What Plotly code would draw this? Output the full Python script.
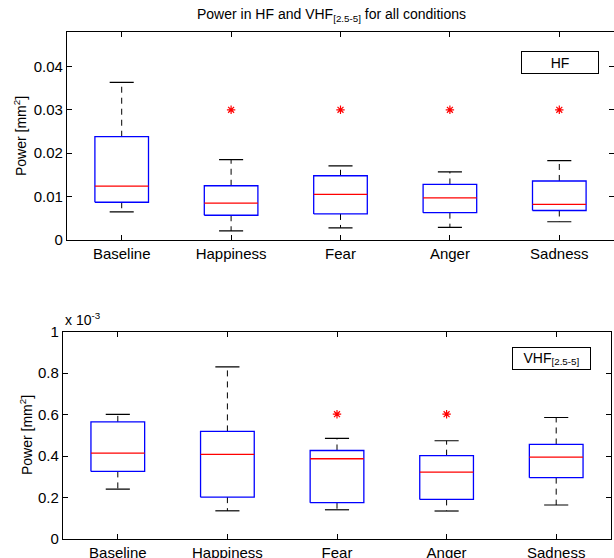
import plotly.graph_objects as go

categories = ["Baseline", "Happiness", "Fear", "Anger", "Sadness"]
positions = [1, 2, 3, 4, 5]

# HF power (mm^2)
hf_low = [0.0065, 0.0021, 0.0028, 0.0029, 0.0042]
hf_q1 = [0.0087, 0.0057, 0.0060, 0.0063, 0.0068]
hf_med = [0.0124, 0.0085, 0.0105, 0.0097, 0.0082]
hf_q3 = [0.0238, 0.0125, 0.0148, 0.0128, 0.0136]
hf_high = [0.0363, 0.0185, 0.0171, 0.0157, 0.0183]
hf_out = [None, 0.030, 0.030, 0.030, 0.030]

# VHF[2.5-5] power (x 1e-3 mm^2)
vhf_low = [0.241, 0.136, 0.141, 0.135, 0.164]
vhf_q1 = [0.326, 0.202, 0.175, 0.191, 0.296]
vhf_med = [0.414, 0.408, 0.387, 0.323, 0.395]
vhf_q3 = [0.565, 0.519, 0.427, 0.402, 0.456]
vhf_high = [0.601, 0.830, 0.485, 0.474, 0.586]
vhf_out = [None, None, 0.602, 0.602, None]

hf_yticks = [0, 0.01, 0.02, 0.03, 0.04]
hf_yticktext = ["0", "0.01", "0.02", "0.03", "0.04"]
vhf_yticks = [0, 0.2, 0.4, 0.6, 0.8, 1.0]
vhf_yticktext = ["0", "0.2", "0.4", "0.6", "0.8", "1"]

HW = 0.245   # box half width (axis units)
CW = 0.11    # cap half width
FONT = "Liberation Sans, Arial, sans-serif"

fig = go.Figure()


def add_boxes(low, q1, med, q3, high, out, xa, ya):
    wx, wy, bx, by, mx, my, cx, cy, ox, oy = [], [], [], [], [], [], [], [], [], []
    for p, lo, a, m, b, hi, o in zip(positions, low, q1, med, q3, high, out):
        wx += [p, p, None, p, p, None]
        wy += [b, hi, None, a, lo, None]
        bx += [p - HW, p + HW, p + HW, p - HW, p - HW, None]
        by += [a, a, b, b, a, None]
        mx += [p - HW, p + HW, None]
        my += [m, m, None]
        cx += [p - CW, p + CW, None, p - CW, p + CW, None]
        cy += [hi, hi, None, lo, lo, None]
        if o is not None:
            ox.append(p)
            oy.append(o)
    common = dict(xaxis=xa, yaxis=ya, showlegend=False, hoverinfo="skip")
    fig.add_trace(go.Scatter(x=wx, y=wy, mode="lines",
                             line=dict(color="black", width=1, dash="6px,5px"), **common))
    fig.add_trace(go.Scatter(x=cx, y=cy, mode="lines",
                             line=dict(color="black", width=1.2), **common))
    fig.add_trace(go.Scatter(x=bx, y=by, mode="lines",
                             line=dict(color="#0000ff", width=1.3), **common))
    fig.add_trace(go.Scatter(x=mx, y=my, mode="lines",
                             line=dict(color="#ff0000", width=1.3), **common))
    fig.add_trace(go.Scatter(x=ox, y=oy, mode="markers",
                             marker=dict(symbol="asterisk-open", color="red", size=7,
                                         line=dict(color="red", width=1.2)), **common))


add_boxes(hf_low, hf_q1, hf_med, hf_q3, hf_high, hf_out, "x", "y")
add_boxes(vhf_low, vhf_q1, vhf_med, vhf_q3, vhf_high, vhf_out, "x2", "y2")

W, H = 614, 558
axis_common = dict(showline=True, linecolor="black", linewidth=1.3, mirror="ticks",
                   ticks="inside", ticklen=5, tickcolor="black", tickwidth=1,
                   showgrid=False, zeroline=False, automargin=False,
                   tickfont=dict(family=FONT, size=15, color="black"))

fig.update_layout(
    width=W, height=H,
    margin=dict(l=0, r=0, t=0, b=0, pad=0, autoexpand=False),
    paper_bgcolor="white", plot_bgcolor="white",
    font=dict(family=FONT, color="black"),
    xaxis=dict(domain=[67 / W, 1.0], range=[0.5, 5.5], tickvals=positions,
               ticktext=categories, anchor="y", **axis_common),
    yaxis=dict(domain=[1 - 240 / H, 1 - 31.7 / H], range=[0, 0.048],
               tickvals=hf_yticks, ticktext=hf_yticktext, anchor="x", **axis_common),
    xaxis2=dict(domain=[63 / W, 611 / W], range=[0.5, 5.5], tickvals=positions,
                ticktext=categories, anchor="y2", **axis_common),
    yaxis2=dict(domain=[1 - 539 / H, 1 - 331.7 / H], range=[0, 1.0],
                tickvals=vhf_yticks, ticktext=vhf_yticktext, anchor="x2", **axis_common),
)

annotations = [
    dict(text="Power in HF and VHF<sub>[2.5-5]</sub> for all conditions",
         x=331 / W, y=1 - 15 / H, xref="paper", yref="paper",
         xanchor="center", yanchor="middle", showarrow=False,
         font=dict(family=FONT, size=14)),
    dict(text="Power [mm<sup>2</sup>]", x=20 / W, y=1 - 136 / H, xref="paper", yref="paper",
         xanchor="center", yanchor="middle", textangle=-90, showarrow=False,
         font=dict(family=FONT, size=14)),
    dict(text="Power [mm<sup>2</sup>]", x=26 / W, y=1 - 435 / H, xref="paper", yref="paper",
         xanchor="center", yanchor="middle", textangle=-90, showarrow=False,
         font=dict(family=FONT, size=14)),
    dict(text="x 10<sup>-3</sup>", x=63 / W, y=1 - 319 / H, xref="paper", yref="paper",
         xanchor="left", yanchor="middle", showarrow=False,
         font=dict(family=FONT, size=14)),
    dict(text="HF", x=560 / W, y=1 - 62.5 / H, xref="paper", yref="paper",
         xanchor="center", yanchor="middle", showarrow=False, width=76, height=21,
         bordercolor="black", borderwidth=1, borderpad=0, bgcolor="white",
         font=dict(family=FONT, size=14)),
    dict(text="VHF<sub>[2.5-5]</sub>", x=551.5 / W, y=1 - 358.3 / H, xref="paper", yref="paper",
         xanchor="center", yanchor="middle", showarrow=False, width=77, height=21,
         bordercolor="black", borderwidth=1, borderpad=0, bgcolor="white",
         font=dict(family=FONT, size=14)),
]
fig.update_layout(annotations=annotations)

fig.write_html("out.html")
